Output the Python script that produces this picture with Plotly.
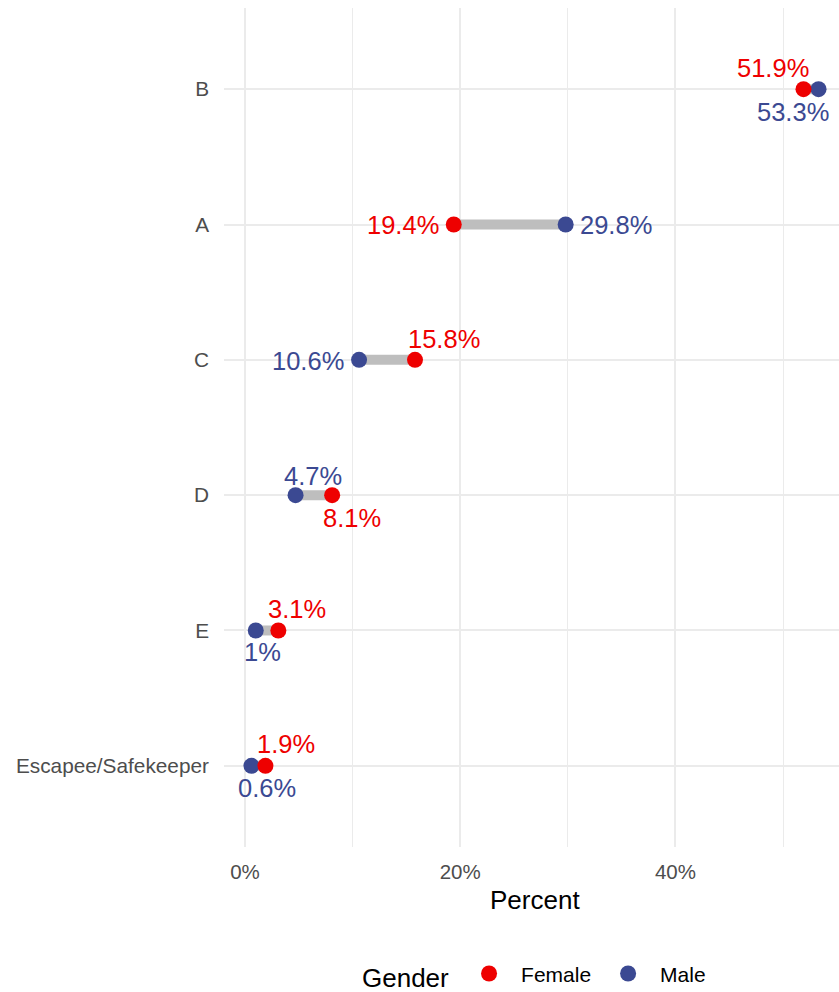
import plotly.graph_objects as go

# ---- data ----
categories = ["Escapee/Safekeeper", "E", "D", "C", "A", "B"]
female = [1.9, 3.1, 8.1, 15.8, 19.4, 51.9]
male = [0.6, 1.0, 4.7, 10.6, 29.8, 53.3]
x_tick_vals = [0, 20, 40]
x_tick_text = ["0%", "20%", "40%"]

# ---- label placement (pixel offsets, style only) ----
# (xanchor, xshift, yshift)
female_lab = [("center", 21, 22), ("center", 19, 21), ("center", 20, -23),
              ("center", 29, 21), ("right", -13, 0), ("center", -30, 21)]
male_lab = [("center", 16, -22), ("center", 7, -22), ("center", 17, 19),
            ("right", -13, -1), ("left", 12, 0), ("center", -26, -23)]

RED = "#EE0000"
BLUE = "#3B4992"
GREY = "#BEBEBE"
FONT = "Liberation Sans, Arial, sans-serif"

fig = go.Figure()

# connecting segments
seg_x, seg_y = [], []
for c, f, m in zip(categories, female, male):
    seg_x += [f, m, None]
    seg_y += [c, c, None]
fig.add_trace(go.Scatter(x=seg_x, y=seg_y, mode="lines",
                         line=dict(color=GREY, width=10),
                         showlegend=False, hoverinfo="skip"))

fig.add_trace(go.Scatter(x=male, y=categories, mode="markers", name="Male",
                         marker=dict(color=BLUE, size=16), legendrank=2))
fig.add_trace(go.Scatter(x=female, y=categories, mode="markers", name="Female",
                         marker=dict(color=RED, size=16), legendrank=1))

def fmt(v):
    s = f"{v:.1f}"
    if s.endswith(".0"):
        s = s[:-2]
    return s + "%"

for vals, labs, col in ((female, female_lab, RED), (male, male_lab, BLUE)):
    for c, v, (xa, dx, dy) in zip(categories, vals, labs):
        fig.add_annotation(x=v, y=c, text=fmt(v), showarrow=False,
                           xanchor=xa, yanchor="middle", xshift=dx, yshift=dy,
                           font=dict(family=FONT, size=25.5, color=col))

# axis title as annotation centered on panel
fig.add_annotation(x=0.5065, y=0, xref="paper", yref="paper", text="Percent",
                   showarrow=False, yanchor="middle", yshift=-53,
                   font=dict(family=FONT, size=26, color="#000000"))

fig.update_layout(
    width=839, height=992,
    margin=dict(l=224, r=0, t=8, b=145, autoexpand=False),
    plot_bgcolor="white", paper_bgcolor="white",
    font=dict(family=FONT),
    showlegend=True,
    legend=dict(orientation="h", x=0.5065, xanchor="center", y=-0.153, yanchor="middle",
                title=dict(text="Gender", side="left", font=dict(size=26, color="#000000")),
                font=dict(size=21, color="#000000"), itemwidth=54,
                traceorder="normal"),
)

fig.update_xaxes(range=[-1.95, 55.2], tickvals=x_tick_vals, ticktext=x_tick_text,
                 showgrid=True, gridcolor="#EBEBEB", gridwidth=2,
                 minor=dict(tickvals=[10, 30, 50], showgrid=True, gridcolor="#EBEBEB", gridwidth=1),
                 zeroline=False, showline=False, ticks="",
                 tickfont=dict(size=20.5, color="#4D4D4D"), ticklabelstandoff=10)
fig.update_yaxes(range=[-0.6, 5.6], type="category", categoryorder="array",
                 categoryarray=categories,
                 showgrid=True, gridcolor="#EBEBEB", gridwidth=2,
                 zeroline=False, showline=False, ticks="",
                 tickfont=dict(size=20.8, color="#4D4D4D"), ticklabelstandoff=14)

fig.write_html("out.html", config={"displayModeBar": False},
               post_script="document.body.style.margin='0';document.body.style.overflow='hidden';")
